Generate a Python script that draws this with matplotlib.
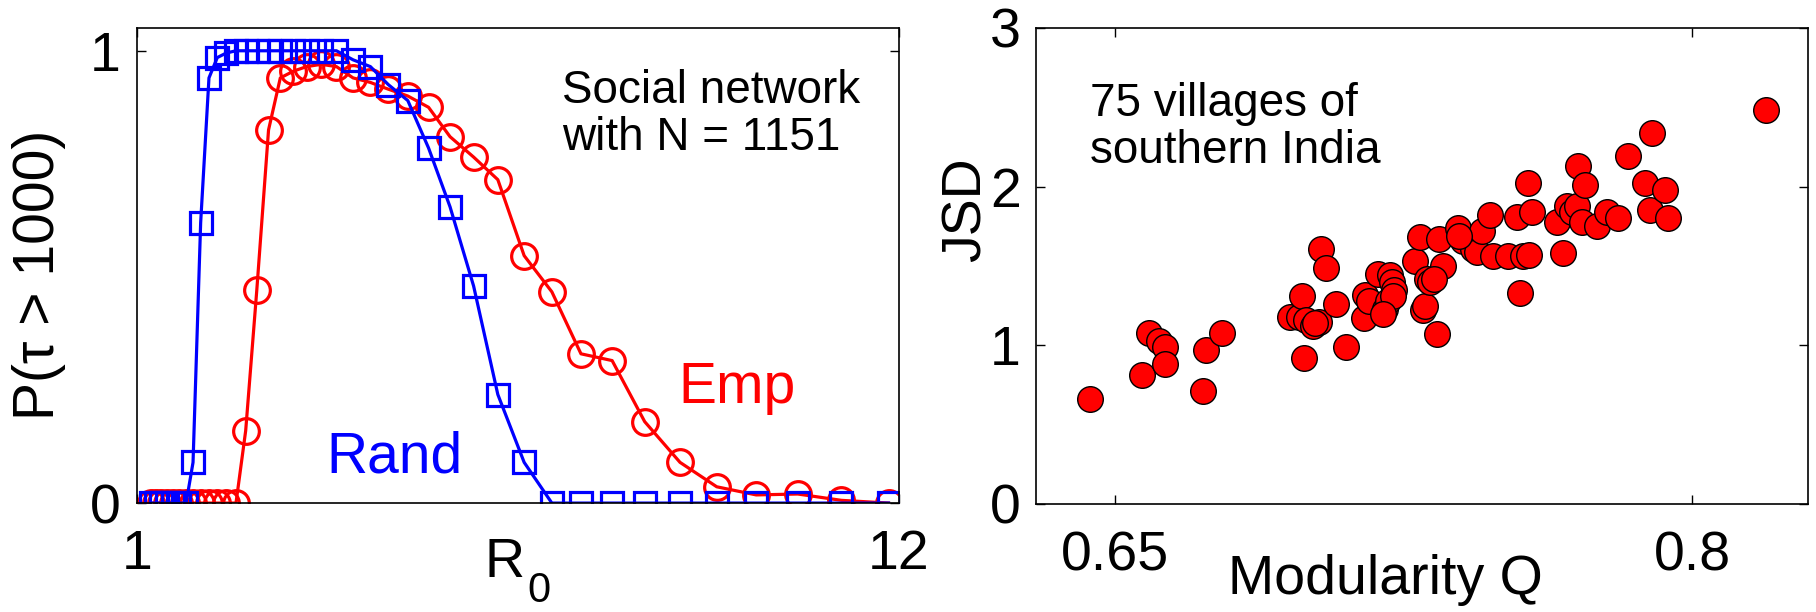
import matplotlib
matplotlib.use("Agg")
import matplotlib.pyplot as plt

plt.rcParams['font.family'] = ['Liberation Sans', 'DejaVu Sans']

# left panel: probability of long outbreak vs R0
r0 = [1.20, 1.27, 1.35, 1.43, 1.52, 1.61, 1.71, 1.81, 1.92, 2.04,
      2.16, 2.29, 2.43, 2.57, 2.73, 2.90, 3.07, 3.26, 3.45, 3.66,
      3.88, 4.12, 4.37, 4.63, 4.91, 5.21, 5.52, 5.86, 6.21, 6.59,
      6.99, 7.41, 7.86, 8.33, 8.84, 9.37, 9.94, 10.54, 11.17, 11.85]
p_rand = [0, 0, 0, 0, 0, 0, 0, 0.09, 0.62, 0.94,
          0.985, 0.995, 1, 1, 1, 1, 1, 1, 1, 1,
          1, 0.98, 0.965, 0.925, 0.89, 0.785, 0.655, 0.48, 0.24, 0.09,
          0, 0, 0, 0, 0, 0, 0, 0, 0, 0]
p_emp = [0, 0, 0, 0, 0, 0, 0, 0, 0, 0,
         0, 0, 0, 0.16, 0.47, 0.825, 0.94, 0.955, 0.965, 0.97,
         0.965, 0.94, 0.93, 0.915, 0.90, 0.875, 0.81, 0.765, 0.715, 0.547,
         0.467, 0.33, 0.315, 0.18, 0.09, 0.036, 0.018, 0.02, 0.006, 0]

# right panel: villages
modularity = [0.6435, 0.6571, 0.6590, 0.6614, 0.6632, 0.6632, 0.6730, 0.6737, 0.6780, 0.6956,
              0.6978, 0.6987, 0.6997, 0.7014, 0.7030, 0.6991, 0.7035, 0.7050, 0.7076, 0.7100,
              0.7147, 0.7150, 0.7160, 0.7184, 0.7203, 0.7209, 0.7215, 0.7220, 0.7224, 0.7222,
              0.7280, 0.7294, 0.7300, 0.7307, 0.7310, 0.7320, 0.7338, 0.7343, 0.7352, 0.7330,
              0.7392, 0.7405, 0.7431, 0.7440, 0.7453, 0.7474, 0.7483, 0.7522, 0.7552, 0.7544,
              0.7561, 0.7577, 0.7574, 0.7583, 0.7648, 0.7665, 0.7674, 0.7687, 0.7700, 0.7713,
              0.7703, 0.7721, 0.7751, 0.7777, 0.7808, 0.7832, 0.7877, 0.7890, 0.7894, 0.7930,
              0.7936, 0.8190, 0.7020, 0.7197, 0.7395]
jsd = [0.66, 0.81, 1.08, 1.03, 0.99, 0.88, 0.71, 0.97, 1.08, 1.18,
       1.18, 1.31, 1.16, 1.12, 1.15, 0.92, 1.61, 1.49, 1.26, 0.99,
       1.17, 1.32, 1.28, 1.45, 1.23, 1.28, 1.44, 1.40, 1.35, 1.31,
       1.53, 1.68, 1.22, 1.25, 1.42, 1.40, 1.07, 1.67, 1.50, 1.42,
       1.74, 1.66, 1.61, 1.59, 1.72, 1.82, 1.56, 1.56, 1.33, 1.81,
       1.56, 1.57, 2.02, 1.84, 1.78, 1.58, 1.88, 1.84, 1.88, 1.78,
       2.13, 2.01, 1.75, 1.84, 1.80, 2.19, 2.02, 1.85, 2.34, 1.98,
       1.80, 2.48, 1.14, 1.20, 1.69]

fig = plt.figure(figsize=(18.16, 6.12), dpi=100)
ax1 = fig.add_axes([0.0754, 0.178, 0.4196, 0.776])
ax2 = fig.add_axes([0.5705, 0.1765, 0.4251, 0.7778])

ax1.plot(r0, p_emp, '-o', color='red', lw=2.3, ms=18.5, mfc='none', mew=2.3)
ax1.plot(r0, p_rand, '-s', color='blue', lw=2.3, ms=15.5, mfc='none', mew=2.3)
ax1.set_xlim(1, 12)
ax1.set_ylim(0, 1.05)
ax1.set_xticks([1, 12])
ax1.set_yticks([0, 1])
ax1.set_ylabel('P(τ > 1000)', fontsize=41)
ax1.yaxis.set_label_coords(-0.093, 0.48)
# R with subscript 0
ax1.set_xlabel('R', fontsize=40)
ax1.xaxis.set_label_coords(0.483, -0.072)
ax1.text(0.512, -0.142, '0', fontsize=30, transform=ax1.transAxes, va='top', ha='left')
ax1.tick_params(labelsize=40)
ax1.tick_params(axis='x', pad=19)
ax1.tick_params(axis='y', pad=12)
ax1.text(0.558, 0.915, 'Social network\nwith N = 1151', transform=ax1.transAxes,
         fontsize=33, va='top', ha='left', linespacing=1.1)
ax1.text(0.249, 0.065, 'Rand', color='blue', fontsize=41, transform=ax1.transAxes,
         va='baseline')
ax1.text(0.71, 0.21, 'Emp', color='red', fontsize=41, transform=ax1.transAxes,
         va='baseline')

ax2.scatter(modularity, jsd, s=340, c='red', edgecolors='black', linewidths=1, zorder=3)
ax2.set_xlim(0.6296, 0.830)
ax2.set_ylim(0, 3)
ax2.set_xticks([0.65, 0.8])
ax2.set_xticklabels(['0.65', '0.8'])
ax2.set_yticks([0, 1, 2, 3])
ax2.set_ylabel('JSD', fontsize=40)
ax2.yaxis.set_label_coords(-0.056, 0.618)
ax2.set_xlabel('Modularity Q', fontsize=40)
ax2.xaxis.set_label_coords(0.453, -0.105)
ax2.tick_params(labelsize=40)
ax2.tick_params(axis='x', pad=19)
ax2.tick_params(axis='y', pad=11)
ax2.text(0.07, 0.887, '75 villages of\nsouthern India', transform=ax2.transAxes,
         fontsize=33, va='top', ha='left', linespacing=1.1)

for ax in (ax1, ax2):
    ax.tick_params(direction='in', length=6.5, width=1, top=True, right=True)
    for sp in ax.spines.values():
        sp.set_linewidth(1.2)

fig.savefig('out.png', dpi=100)
